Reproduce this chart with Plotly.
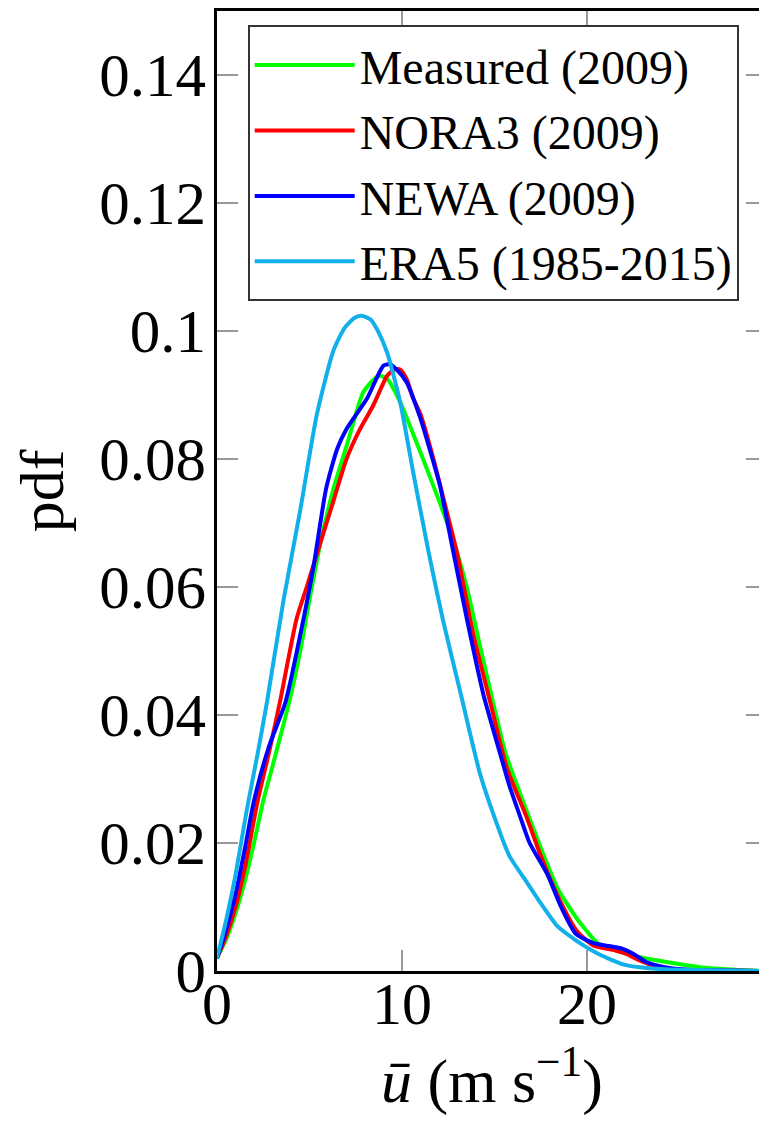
import plotly.graph_objects as go

# wind speed (m/s) and pdf values
era5_u = [0, 0.5, 1.0, 1.6, 2.2, 2.7, 3.6, 4.5, 5.4, 6.3, 6.9, 7.4, 7.8, 8.3, 8.7,
          9.2, 9.9, 10.6, 11.4, 12.2, 13.2, 14.2, 15.0, 15.8, 16.6, 17.4, 18.4,
          19.4, 20.6, 22.0, 23.5, 25.0, 27.0, 29.7]
era5_pdf = [0.002, 0.008, 0.015, 0.025, 0.034, 0.042, 0.058, 0.072, 0.087, 0.097,
            0.1005, 0.1020, 0.1024, 0.1018, 0.1000, 0.0966, 0.0889, 0.078, 0.066,
            0.055, 0.043, 0.031, 0.024, 0.018, 0.0145, 0.011, 0.007, 0.0048,
            0.0027, 0.0010, 0.0004, 0.0002, 0.0001, 0.0]

meas_u = [0, 0.5, 1.0, 1.5, 2.0, 2.5, 3.0, 3.9, 4.5, 5.0, 5.6, 6.3, 7.0, 7.9, 8.5,
          8.8, 9.2, 9.9, 11.0, 12.0, 12.8, 13.5, 14.2, 15.0, 15.6, 16.4, 17.4,
          18.4, 19.4, 20.6, 21.5, 22.5, 24.3, 26.1, 28.0, 29.7]
meas_pdf = [0.002, 0.005, 0.009, 0.014, 0.020, 0.0266, 0.032, 0.042, 0.050, 0.058,
            0.067, 0.0754, 0.082, 0.0904, 0.0925, 0.093, 0.0925, 0.0889, 0.081,
            0.0735, 0.067, 0.060, 0.051, 0.041, 0.034, 0.0276, 0.020, 0.013,
            0.0084, 0.0043, 0.0033, 0.0024, 0.0014, 0.0006, 0.0002, 0.0]

nora_u = [0, 0.5, 1.0, 1.5, 2.2, 2.8, 3.4, 4.3, 4.85, 5.6, 6.3, 7.0, 7.7, 8.45,
          9.2, 9.6, 9.9, 10.25, 10.6, 11.0, 11.7, 12.05, 12.96, 13.86, 14.76,
          15.66, 16.74, 17.5, 18.54, 19.44, 20.34, 21.4, 22.1, 22.8, 23.9, 25.0,
          27.0, 29.7]
nora_pdf = [0.002, 0.0055, 0.010, 0.016, 0.0266, 0.034, 0.042, 0.055, 0.060, 0.067,
            0.0735, 0.080, 0.0845, 0.0884, 0.093, 0.0940, 0.0940, 0.0925, 0.0895,
            0.087, 0.080, 0.076, 0.0655, 0.0525, 0.0421, 0.0318, 0.024, 0.018,
            0.011, 0.0063, 0.004, 0.0033, 0.0027, 0.0017, 0.0006, 0.0002, 0.0001,
            0.0]

newa_u = [0, 0.5, 1.0, 1.5, 2.0, 2.8, 3.7, 4.5, 5.2, 5.9, 6.5, 7.0, 8.1, 9.0, 9.35,
          9.7, 10.25, 11.0, 11.7, 12.05, 12.6, 13.5, 14.4, 15.3, 15.8, 16.4, 16.9,
          17.84, 18.6, 19.4, 20.4, 21.2, 21.9, 22.5, 23.2, 24.2, 25.5, 27.0, 29.7]
newa_pdf = [0.002, 0.0065, 0.012, 0.019, 0.0266, 0.035, 0.042, 0.0525, 0.0629,
            0.0754, 0.0816, 0.0847, 0.0894, 0.0946, 0.0948, 0.094, 0.092, 0.0863,
            0.0795, 0.0759, 0.068, 0.0551, 0.0432, 0.034, 0.029, 0.024, 0.020,
            0.0152, 0.0100, 0.0058, 0.0043, 0.0039, 0.0035, 0.0027, 0.0014,
            0.0006, 0.0002, 0.0001, 0.0]

names = ["Measured (2009)", "NORA3 (2009)", "NEWA (2009)", "ERA5 (1985-2015)"]
colors = ["#00ff00", "#ff0000", "#0000ff", "#12b0ea"]
xs = [meas_u, nora_u, newa_u, era5_u]
ys = [meas_pdf, nora_pdf, newa_pdf, era5_pdf]

font_family = "Liberation Serif"

fig = go.Figure()
for name, color, x, y in zip(names, colors, xs, ys):
    fig.add_trace(go.Scatter(
        x=x, y=y, mode='lines', name=name,
        line=dict(color=color, width=4, shape='spline', smoothing=0.6)
    ))

# invisible trace carrying the right-hand mirrored ticks
fig.add_trace(go.Scatter(x=[0], y=[0], yaxis='y2', mode='lines',
                         showlegend=False, hoverinfo='skip',
                         line=dict(width=0)))

# the page body adds an 8px margin, so the figure is 8px smaller each way
fig.update_layout(
    width=759, height=1113,
    margin=dict(l=209, r=0, t=1, b=150),
    paper_bgcolor='white', plot_bgcolor='white',
    font=dict(family=font_family, color='black', size=60),
    showlegend=True,
    legend=dict(
        x=0.0558, y=0.985, xanchor='left', yanchor='top',
        font=dict(family=font_family, size=48, color='black'),
        bgcolor='white', bordercolor='#333333', borderwidth=2,
        tracegroupgap=0, itemwidth=100,
    ),
    xaxis=dict(
        range=[0, 29.73], tickvals=[0, 10, 20, 30],
        ticks='inside', ticklen=21, tickwidth=1.5, tickcolor='#999999',
        showline=True, linecolor='black', linewidth=2.5, mirror='ticks',
        showgrid=False, zeroline=False,
        tickfont=dict(size=60), ticklabelstandoff=-22,
        title=dict(text='<i>ū</i> (m s<sup>−1</sup>)', font=dict(size=62),
                   standoff=14),
    ),
    yaxis=dict(
        range=[0, 0.15], dtick=0.02, tick0=0,
        ticks='inside', ticklen=21, tickwidth=1.5, tickcolor='#999999',
        showline=True, linecolor='black', linewidth=2.5,
        showgrid=False, zeroline=False,
        tickfont=dict(size=61), ticklabelstandoff=-4,
        title=dict(text='pdf', font=dict(size=62), standoff=38),
    ),
    yaxis2=dict(
        overlaying='y', side='right', matches='y',
        range=[0, 0.15], dtick=0.02, tick0=0,
        ticks='inside', ticklen=21, tickwidth=1.5, tickcolor='#999999',
        showticklabels=False, showline=False, showgrid=False, zeroline=False,
    ),
)

fig.write_html("out.html")
